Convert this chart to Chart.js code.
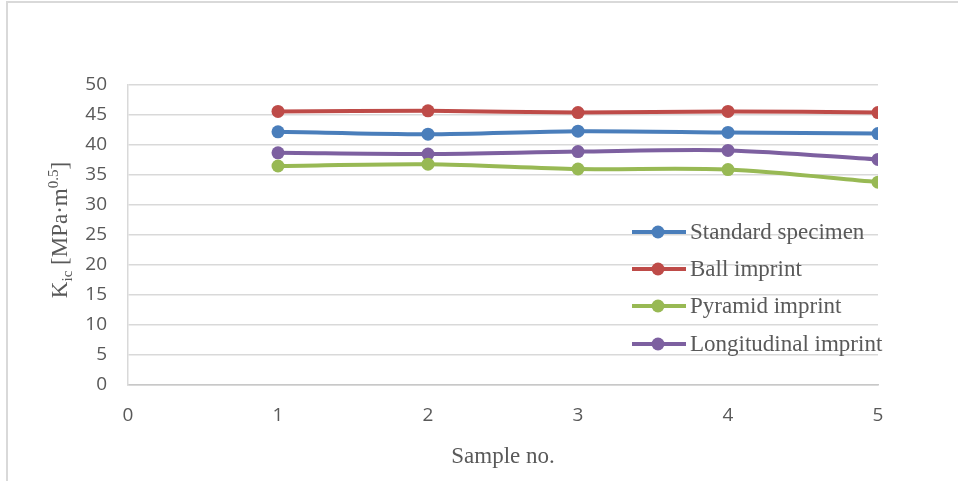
<!DOCTYPE html>
<html>
<head>
<meta charset="utf-8">
<script src="https://cdn.jsdelivr.net/npm/chart.js@4.4.1/dist/chart.umd.min.js"></script>
<style>
  html, body { margin: 0; padding: 0; background: #ffffff; }
  #wrap { position: relative; width: 958px; height: 481px; }
  #frame {
    position: absolute; left: 6px; top: 1px; right: 0; bottom: 0;
    border-top: 2px solid #d9d9d9; border-left: 2px solid #d9d9d9;
    pointer-events: none;
  }
  canvas { position: absolute; left: 0; top: 0; }
</style>
</head>
<body>
<div id="wrap">
  <canvas id="chart" width="958" height="481"></canvas>
  <div id="frame"></div>
</div>
<script>
const sampleNos = [1, 2, 3, 4, 5];
const standardSpecimen = [42.2, 41.8, 42.3, 42.1, 41.9];
const ballImprint = [45.6, 45.7, 45.4, 45.6, 45.4];
const pyramidImprint = [36.5, 36.8, 36.0, 35.9, 33.8];
const longitudinalImprint = [38.7, 38.5, 38.9, 39.1, 37.6];

const seriesNames = ["Standard specimen", "Ball imprint", "Pyramid imprint", "Longitudinal imprint"];
const seriesValues = [standardSpecimen, ballImprint, pyramidImprint, longitudinalImprint];
const seriesColors = ["#4a7ebb", "#be4b48", "#98b954", "#7d60a0"];

const xTitle = "Sample no.";
const gridColor = "#d9d9d9";
const textColor = "#595959";
const tickFont = { family: "'Open Sans', 'Noto Sans', sans-serif", size: 19 };
const serifFamily = "'Liberation Serif', 'Times New Roman', serif";

const datasets = seriesNames.map((name, i) => ({
  label: name,
  data: sampleNos.map((x, j) => ({ x, y: seriesValues[i][j] })),
  borderColor: seriesColors[i],
  backgroundColor: seriesColors[i],
  borderWidth: 4,
  pointRadius: 6.5,
  pointBorderWidth: 0,
  tension: 0.3,
}));

// legend + axis titles drawn by hand so they sit where the original has them
const decorations = {
  id: "decorations",
  afterDatasetsDraw(chart) {
    const ctx = chart.ctx;
    ctx.save();
    ctx.fillStyle = textColor;

    // legend
    const legendX = 632;
    const legendY = [232, 269, 306, 344];
    ctx.font = `23px ${serifFamily}`;
    ctx.textBaseline = "middle";
    ctx.textAlign = "left";
    chart.data.datasets.forEach((ds, i) => {
      const y = legendY[i];
      ctx.strokeStyle = ds.borderColor;
      ctx.lineWidth = 4;
      ctx.beginPath();
      ctx.moveTo(legendX, y);
      ctx.lineTo(legendX + 54, y);
      ctx.stroke();
      ctx.fillStyle = ds.backgroundColor;
      ctx.beginPath();
      ctx.arc(legendX + 26, y, 6.5, 0, Math.PI * 2);
      ctx.fill();
      ctx.fillStyle = textColor;
      ctx.fillText(ds.label, legendX + 58, y + 1);
    });

    // x title
    ctx.textAlign = "center";
    ctx.textBaseline = "alphabetic";
    const area = chart.chartArea;
    ctx.fillText(xTitle, (area.left + area.right) / 2, 463);

    // y title: K_ic [MPa·m^0.5]
    const parts = [
      { t: "K", size: 23, dy: 0 },
      { t: "ic", size: 15, dy: 5 },
      { t: " [MPa\u00b7m", size: 23, dy: 0 },
      { t: "0.5", size: 15, dy: -9 },
      { t: "]", size: 23, dy: 0 },
    ];
    let total = 0;
    parts.forEach((p) => {
      ctx.font = `${p.size}px ${serifFamily}`;
      p.w = ctx.measureText(p.t).width;
      total += p.w;
    });
    ctx.translate(67, 230);
    ctx.rotate(-Math.PI / 2);
    ctx.textAlign = "left";
    let cx = -total / 2;
    parts.forEach((p) => {
      ctx.font = `${p.size}px ${serifFamily}`;
      ctx.fillText(p.t, cx, p.dy);
      cx += p.w;
    });
    ctx.restore();
  },
};

new Chart(document.querySelector("#chart"), {
  type: "line",
  data: { datasets },
  options: {
    responsive: false,
    animation: false,
    layout: { padding: { top: 85, right: 80, bottom: 0, left: 0 } },
    plugins: {
      legend: { display: false },
      tooltip: { enabled: false },
    },
    scales: {
      x: {
        type: "linear",
        min: 0,
        max: 5,
        ticks: { stepSize: 1, color: textColor, font: tickFont, padding: 19 },
        grid: { display: false, drawTicks: false },
        border: { display: true, color: "#c8c8c8", width: 1.5 },
        afterFit(scale) { scale.height = 96; },
      },
      y: {
        min: 0,
        max: 50,
        ticks: { stepSize: 5, color: textColor, font: tickFont, padding: 21 },
        grid: { color: gridColor, lineWidth: 1.5, drawTicks: false },
        border: { display: true, color: gridColor, width: 1.5 },
        afterFit(scale) { scale.width = 128; },
      },
    },
  },
  plugins: [decorations],
});
</script>
</body>
</html>
